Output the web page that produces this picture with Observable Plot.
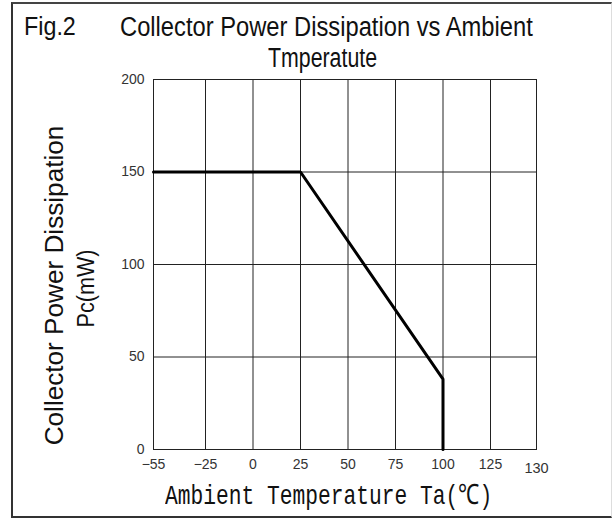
<!DOCTYPE html>
<html>
<head>
<meta charset="utf-8">
<script src="https://cdn.jsdelivr.net/npm/d3@7"></script>
<script src="https://cdn.jsdelivr.net/npm/@observablehq/plot@0.6"></script>
<style>
  html, body { margin: 0; padding: 0; background: #fff; }
  #wrap { position: relative; width: 613px; height: 520px; overflow: hidden; font-family: "Liberation Sans", Arial, sans-serif; }
  #border { position: absolute; left: 11px; top: 2px; width: 601px; height: 516px; box-sizing: border-box;
    border-left: 2px solid #333; border-top: 2px solid #444; border-bottom: 2px solid #333; border-right: 1px solid #ddd; }
  .t { position: absolute; color: #111; white-space: nowrap; line-height: 1; left: 0; top: 0; }
  #chart { position: absolute; left: 0; top: 0; }
</style>
</head>
<body>
<div id="wrap">
  <div id="chart"></div>
  <div id="border"></div>
  <div class="t" id="fig" style="font-size:26px;">Fig.2</div>
  <div class="t" id="title1" style="font-size:27px;">Collector Power Dissipation vs Ambient</div>
  <div class="t" id="title2" style="font-size:27px;">Tmperatute</div>
  <div class="t" id="ylab1" style="font-size:25px;">Collector Power Dissipation</div>
  <div class="t" id="ylab2" style="font-size:23px;">Pc(mW)</div>
  <div class="t" id="xlab" style="font-size:28px; font-family:'Liberation Mono', 'DejaVu Sans Mono', monospace;">Ambient Temperature Ta(℃)</div>
</div>
<script>
// Data
const tempC   = [-55, 25, 100, 100];
const powerMW = [150, 150, 38, 0];
const xTickValues = [-55, -25, 0, 25, 50, 75, 100, 125, 130];
const yTickValues = [0, 50, 100, 150, 200];

const curve = tempC.map((t, i) => ({t, p: powerMW[i]}));

const chart = Plot.plot({
  width: 613,
  height: 520,
  marginLeft: 153,
  marginRight: 77,
  marginTop: 79,
  marginBottom: 71,
  style: {fontFamily: "'Liberation Sans', Arial, sans-serif", fontSize: "14px", color: "#333", background: "transparent"},
  x: {type: "linear", domain: [-55, -25, 125, 130], range: [153, 205, 490, 536]},
  y: {domain: [0, 200]},
  marks: [
    Plot.ruleX(xTickValues, {stroke: "#222", strokeWidth: 1}),
    Plot.ruleY(yTickValues, {stroke: "#222", strokeWidth: 1}),
    Plot.frame({stroke: "#222", strokeWidth: 1}),
    Plot.line(curve, {x: "t", y: "p", stroke: "#000", strokeWidth: 3, strokeLinejoin: "miter"}),
    Plot.axisX(xTickValues.slice(0, -1), {tickSize: 0, tickPadding: 10, label: null, fontSize: 14}),
    Plot.axisX(xTickValues.slice(-1), {tickSize: 0, tickPadding: 13, label: null, fontSize: 14.5}),
    Plot.axisY(yTickValues, {tickSize: 0, tickPadding: 9, label: null, fontSize: 14})
  ]
});
document.getElementById("chart").appendChild(chart);

// Layout helpers: stretch a text line horizontally between left/right, centred on cy
function fitH(id, left, right, cy) {
  const el = document.getElementById(id);
  const w = el.offsetWidth, h = el.offsetHeight;
  el.style.left = left + "px";
  el.style.top = (cy - h / 2) + "px";
  el.style.transformOrigin = "0 50%";
  el.style.transform = `scaleX(${(right - left) / w})`;
}
function fitV(id, cx, cy, len) {
  const el = document.getElementById(id);
  const w = el.offsetWidth, h = el.offsetHeight;
  el.style.left = (cx - w / 2) + "px";
  el.style.top = (cy - h / 2) + "px";
  el.style.transformOrigin = "50% 50%";
  el.style.transform = `rotate(-90deg) scaleX(${len / w})`;
}
fitH("fig", 24, 76, 26);
fitH("title1", 120, 533, 27);
fitH("title2", 268, 377, 58);
fitV("ylab1", 55, 285, 320);
fitV("ylab2", 86, 288, 78);
fitH("xlab", 165, 492, 497);
</script>
</body>
</html>
